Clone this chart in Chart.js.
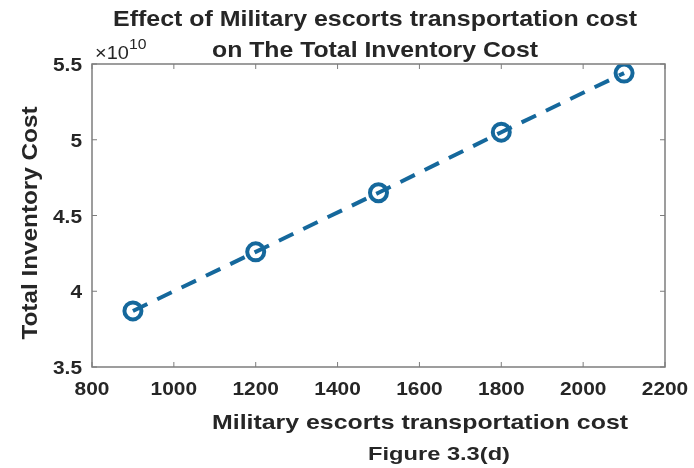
<!DOCTYPE html>
<html>
<head>
<meta charset="utf-8">
<script src="https://cdn.jsdelivr.net/npm/chart.js@4/dist/chart.umd.min.js"></script>
<style>
  html, body { margin: 0; padding: 0; background: #fff; }
  #wrap { width: 694px; height: 468px; }
</style>
</head>
<body>
<div id="wrap"><canvas id="chart" width="694" height="468"></canvas></div>
<script>
// ===== data =====
const escortCost = [900, 1200, 1500, 1800, 2100];
const totalInvCost = [3.87e10, 4.26e10, 4.65e10, 5.05e10, 5.44e10];
const xTicks = [800, 1000, 1200, 1400, 1600, 1800, 2000, 2200];
const yTicks = [3.5e10, 4e10, 4.5e10, 5e10, 5.5e10];

const titleLines = ["Effect of Military escorts transportation cost", "on The Total Inventory Cost"];
const xTitle = "Military escorts transportation cost";
const yTitle = "Total Inventory Cost";
const caption = "Figure 3.3(d)";

const LINE = "#15689c";
const AXIS = "#7d7d7d";
const TEXT = "#262626";
const FONT = "'Liberation Sans', Arial, sans-serif";
const SX = 1.1; // the source image is a bit stretched sideways

// draw text with a horizontal stretch, optionally to a target width
function stretchText(ctx, str, x, y, font, opt = {}) {
  ctx.save();
  ctx.font = font;
  const w = ctx.measureText(str).width;
  const sx = opt.width ? opt.width / w : (opt.sx || SX);
  ctx.translate(x, y);
  if (opt.rotate) ctx.rotate(opt.rotate);
  ctx.scale(sx, 1);
  ctx.textAlign = opt.align || "center";
  ctx.textBaseline = "middle";
  ctx.fillStyle = TEXT;
  ctx.fillText(str, 0, 0);
  ctx.restore();
}

// titles, box, inward ticks, tick labels (matlab look)
const matlabDecor = {
  id: "matlabDecor",
  afterDraw(chart) {
    const { ctx, chartArea: a, scales } = chart;
    ctx.save();
    ctx.strokeStyle = AXIS;
    ctx.lineWidth = 1.5;
    ctx.strokeRect(a.left, a.top, a.right - a.left, a.bottom - a.top);
    ctx.lineWidth = 1;
    const tl = 5;
    scales.x.ticks.forEach((t) => {
      const px = scales.x.getPixelForValue(t.value);
      ctx.beginPath();
      ctx.moveTo(px, a.bottom); ctx.lineTo(px, a.bottom - tl);
      ctx.moveTo(px, a.top); ctx.lineTo(px, a.top + tl);
      ctx.stroke();
      stretchText(ctx, String(t.value), px, a.bottom + 23, "bold 19px " + FONT);
    });
    scales.y.ticks.forEach((t) => {
      const py = scales.y.getPixelForValue(t.value);
      ctx.beginPath();
      ctx.moveTo(a.left, py); ctx.lineTo(a.left + tl, py);
      ctx.moveTo(a.right, py); ctx.lineTo(a.right - tl, py);
      ctx.stroke();
      stretchText(ctx, String(+(t.value / 1e10).toFixed(1)), a.left - 10, py + 2,
        "bold 19px " + FONT, { align: "right" });
    });
    ctx.restore();

    stretchText(ctx, titleLines[0], 375, 20, "bold 22px " + FONT, { width: 524 });
    stretchText(ctx, titleLines[1], 375, 51, "bold 22px " + FONT, { width: 326 });

    // exponent
    stretchText(ctx, "\u00d710", a.left + 3, 54, "19px " + FONT, { align: "left", sx: 1.05 });
    stretchText(ctx, "10", a.left + 37, 45, "15px " + FONT, { align: "left", sx: 1.05 });

    stretchText(ctx, xTitle, 420, 423, "bold 21px " + FONT, { width: 416 });
    stretchText(ctx, caption, 439, 455, "bold 19px " + FONT, { width: 142 });
    stretchText(ctx, yTitle, 31, 223, "bold 22px " + FONT, { width: 233, rotate: -Math.PI / 2 });
  },
};

new Chart(document.getElementById("chart"), {
  type: "line",
  data: {
    datasets: [
      {
        data: escortCost.map((x, i) => ({ x, y: totalInvCost[i] })),
        borderColor: LINE,
        borderWidth: 4,
        borderDash: [16, 11],
        pointStyle: "circle",
        pointRadius: 8.5,
        pointBorderWidth: 4,
        pointBorderColor: LINE,
        pointBackgroundColor: "rgba(255,255,255,0)",
        fill: false,
        tension: 0,
      },
    ],
  },
  options: {
    responsive: false,
    animation: false,
    layout: { padding: { top: 64, right: 29, left: 0, bottom: 0 } },
    plugins: { legend: { display: false }, tooltip: { enabled: false } },
    scales: {
      x: {
        type: "linear",
        min: 800,
        max: 2200,
        afterFit: (s) => { s.height = 101; },
        afterBuildTicks: (s) => { s.ticks = xTicks.map((v) => ({ value: v })); },
        grid: { display: false, drawTicks: false },
        border: { display: false },
        ticks: { display: false },
      },
      y: {
        min: 3.5e10,
        max: 5.5e10,
        afterFit: (s) => { s.width = 92; },
        afterBuildTicks: (s) => { s.ticks = yTicks.map((v) => ({ value: v })); },
        grid: { display: false, drawTicks: false },
        border: { display: false },
        ticks: { display: false },
      },
    },
  },
  plugins: [matlabDecor],
});
</script>
</body>
</html>
